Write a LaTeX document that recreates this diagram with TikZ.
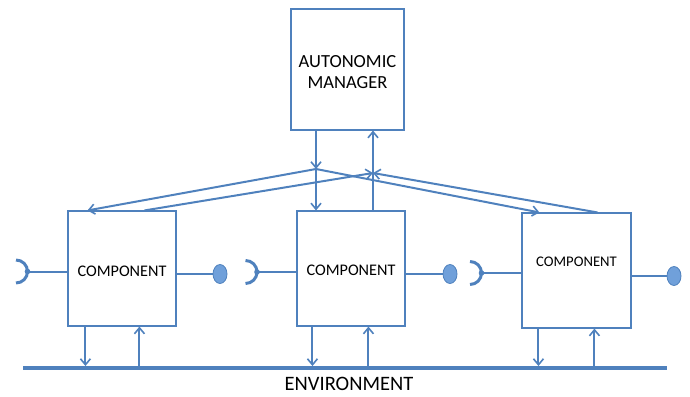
\documentclass[tikz,border=0pt]{standalone}
\usepackage{fontspec}
\setmainfont{Carlito}
\usetikzlibrary{arrows.meta,calc,shapes.geometric}
\definecolor{ln}{RGB}{79,129,189}
\definecolor{ballc}{RGB}{112,160,218}
\begin{document}
\begin{tikzpicture}[x=1pt,y=-1pt,
  box/.style={draw=ln, line width=1.1pt, fill=white, inner sep=0pt, minimum width=108pt, minimum height=115pt, align=center},
  conn/.style={draw=ln, line width=2pt, -{Straight Barb[length=6pt,width=10pt,line width=1.6pt]}},
  plain/.style={draw=ln, line width=2pt},
  ball/.style={ellipse, draw=ln, line width=0.8pt, fill=ballc, minimum width=14pt, minimum height=19pt, inner sep=0pt},
  sock/.style={draw=ln, line width=3pt},
  dotp/.style={fill=ln, draw=none},
  lbl/.style={font=\fontsize{16.2}{18}\selectfont}
]
\useasboundingbox (0,0) rectangle (690,396);

% boxes
\node[box, minimum width=113pt, minimum height=121pt] (mgr) at (347.5,69.5) {};
\node[font=\fontsize{18.5}{20.5}\selectfont, align=center] (mgrt) at (347.5,72) {AUTONOMIC\\MANAGER};
\node[box] (c1) at (122,268.5) {};
\node[lbl] (c1t) at (122,271) {COMPONENT};
\node[box] (c2) at (351,268.5) {};
\node[lbl] (c2t) at (351,270) {COMPONENT};
\node[box, minimum width=109pt] (c3) at (576.5,270.5) {};
\node[font=\fontsize{14.7}{17}\selectfont] (c3t) at (576.5,262) {COMPONENT};

% junctions
\coordinate (j1) at (316,169);
\coordinate (j2) at (373,173);

% manager -> components
\draw[conn] (mgr.south -| j1) -- (j1);
\draw[conn] (j1) -- ($(c1.north west)+(20,0)$);
\draw[conn] (j1) -- (c2.north -| j1);
\draw[conn] (j1) -- ($(c3.north west)+(18,0)$);

% components -> manager
\draw[conn] ($(c1.north west)+(77,0)$) -- (j2);
\draw[conn] ($(c3.north west)+(76,0)$) -- (j2);
\draw[plain] (c2.north -| j2) -- (j2);
\draw[conn] (j2) -- (mgr.south -| j2);

% environment
\coordinate (envL) at (23,368);
\coordinate (envR) at (667,368);
\draw[draw=ln, line width=4.2pt] (envL) -- (envR);
\node[font=\fontsize{20.5}{23}\selectfont] (envt) at (349,384) {ENVIRONMENT};

% bottom arrows
\coordinate (c1d) at ($(c1.south west)+(18,0)$);
\coordinate (c1u) at ($(c1.south west)+(72,0)$);
\coordinate (c2d) at ($(c2.south west)+(16,0)$);
\coordinate (c2u) at ($(c2.south west)+(72,0)$);
\coordinate (c3d) at ($(c3.south west)+(17,0)$);
\coordinate (c3u) at ($(c3.south west)+(73,0)$);
\coordinate (envTop) at (0,366);
\foreach \d/\u in {c1d/c1u, c2d/c2u, c3d/c3u}{
  \draw[conn] (\d) -- (\d |- envTop);
  \draw[conn] (\u |- envTop) -- (\u);
}

% provided interfaces (balls)
\node[ball] (b1) at (220,274) {};
\node[ball] (b2) at (450,274) {};
\node[ball] (b3) at (674,276) {};
\draw[plain] (c1.east |- b1) -- (b1);
\draw[plain] (c2.east |- b2) -- (b2);
\draw[plain] (c3.east |- b3) -- (b3);

% required interfaces (sockets)
\coordinate (s1) at (27.5,271.5);
\coordinate (s2) at (257,272);
\coordinate (s3) at (481.5,273);
\foreach \s in {s1,s2,s3}{
  \draw[sock] ($(\s)+(-11.5,-11.5)$) arc[start angle=-90,end angle=90,radius=11.5];
  \fill[dotp] (\s) circle (2.8pt);
}
\draw[plain] (s1) -- (c1.west |- s1);
\draw[plain] (s2) -- (c2.west |- s2);
\draw[plain] (s3) -- (c3.west |- s3);
\end{tikzpicture}
\end{document}
